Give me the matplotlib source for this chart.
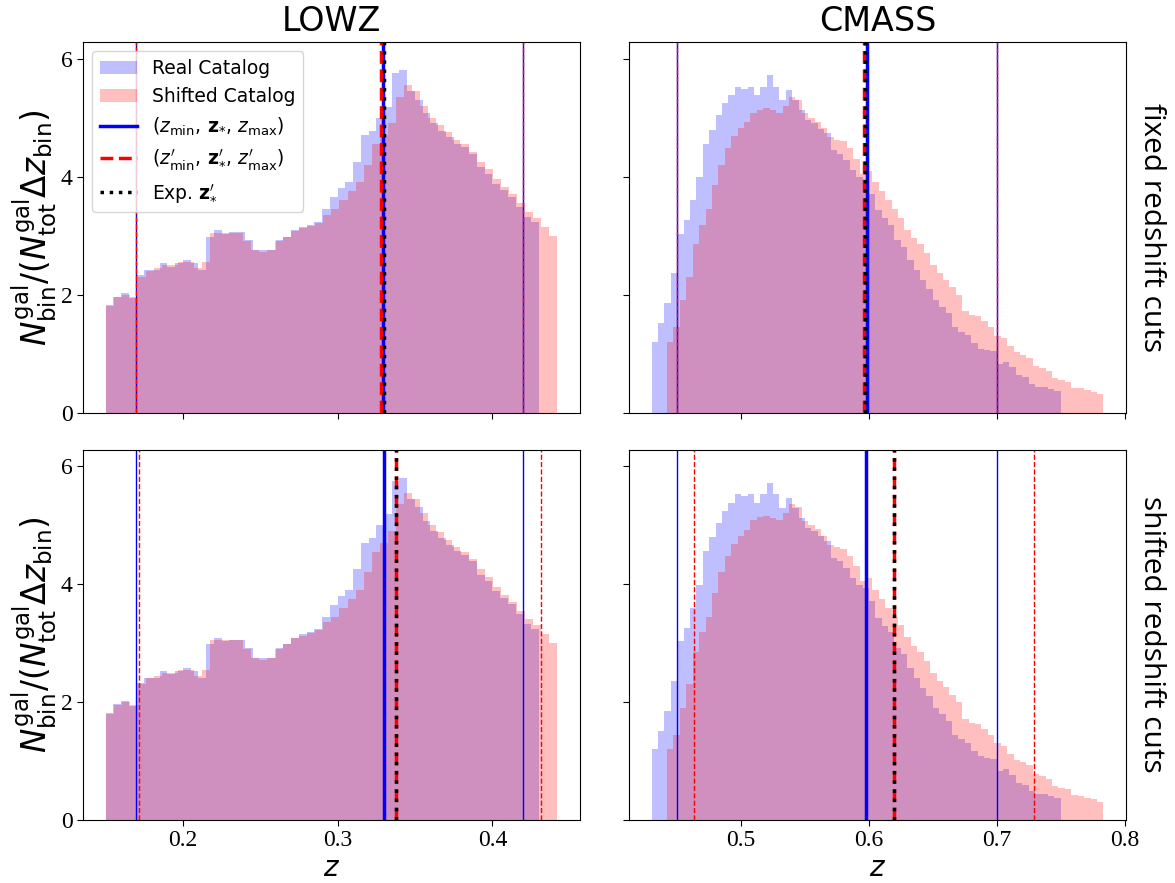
import numpy as np
import matplotlib
matplotlib.use("Agg")
import matplotlib.pyplot as plt

# ---------------- data ----------------
lowz_real_range = (0.150, 0.430)
lowz_real = [1.82, 1.96, 2.02, 1.94, 2.33, 2.41, 2.41, 2.53, 2.47, 2.53,
             2.58, 2.53, 2.41, 2.98, 3.09, 3.03, 3.06, 3.06, 2.92, 2.75,
             2.75, 2.75, 2.92, 2.98, 3.09, 3.15, 3.18, 3.23, 3.45, 3.65,
             3.80, 3.90, 4.25, 4.70, 4.78, 5.00, 5.18, 5.75, 5.80, 5.45,
             5.30, 5.07, 4.90, 4.78, 4.67, 4.56, 4.50, 4.39, 4.16, 4.05,
             3.88, 3.77, 3.66, 3.49, 3.32, 3.23]

lowz_shift_range = (0.150, 0.442)
lowz_shift = [1.80, 1.95, 2.00, 1.95, 2.30, 2.40, 2.45, 2.50, 2.50, 2.55,
              2.55, 2.45, 2.55, 3.05, 3.05, 3.05, 3.05, 2.90, 2.75, 2.72,
              2.75, 2.90, 2.98, 3.08, 3.12, 3.17, 3.22, 3.35, 3.45, 3.60,
              3.75, 3.90, 4.20, 4.55, 4.70, 4.90, 5.35, 5.55, 5.45, 5.20,
              5.00, 4.88, 4.75, 4.62, 4.55, 4.42, 4.25, 4.12, 3.95, 3.82,
              3.70, 3.55, 3.40, 3.30, 3.15, 3.00]

cmass_real_range = (0.430, 0.750)
cmass_real = [1.20, 1.51, 1.85, 2.36, 3.03, 3.26, 3.60, 3.99, 4.56, 4.79,
              5.04, 5.24, 5.38, 5.52, 5.49, 5.52, 5.38, 5.52, 5.72, 5.52,
              5.29, 5.46, 5.29, 5.12, 4.95, 4.90, 4.81, 4.73, 4.45, 4.39,
              4.28, 4.11, 3.99, 3.94,
              3.71, 3.43, 3.29, 3.18, 2.92, 2.81, 2.58, 2.41, 2.24, 2.10,
              1.90, 1.79, 1.68, 1.45, 1.37, 1.31, 1.17, 1.08, 1.06, 1.04,
              0.83, 0.86, 0.77, 0.63, 0.60, 0.49, 0.44, 0.44, 0.40, 0.37]

cmass_shift_range = (0.442, 0.7835)
cmass_shift = [1.20, 1.45, 1.90, 2.30, 2.85, 3.18, 3.45, 3.85, 4.20, 4.48,
               4.68, 4.82, 4.92, 5.08, 5.13, 5.16, 5.12, 5.08, 5.20, 5.35,
               5.30, 5.07, 5.00, 4.93, 4.82, 4.67, 4.62, 4.60, 4.48, 4.30,
               4.05, 4.10, 3.90, 3.75, 3.60, 3.45, 3.30, 3.10, 2.95, 2.85,
               2.70, 2.50, 2.36, 2.25, 2.12, 2.00, 1.72, 1.65, 1.63, 1.55,
               1.45, 1.30, 1.26, 1.12, 1.02, 0.98, 0.93, 0.78, 0.75, 0.70,
               0.58, 0.55, 0.52, 0.42, 0.41, 0.38, 0.35, 0.31]

samples = ["LOWZ", "CMASS"]
rows = ["fixed redshift cuts", "shifted redshift cuts"]

# redshift cuts: (zmin, z*, zmax) real and (z'min, z'*, z'max) shifted, plus expected z'*
cuts_real = {"LOWZ": [(0.170, 0.3295, 0.420), (0.170, 0.3298, 0.420)],
             "CMASS": [(0.450, 0.5984, 0.700), (0.450, 0.5977, 0.700)]}
cuts_shift = {"LOWZ": [(0.170, 0.3282, 0.420), (0.1717, 0.3378, 0.4317)],
              "CMASS": [(0.450, 0.5963, 0.700), (0.4632, 0.6198, 0.7295)]}
exp_zstar = {"LOWZ": [0.3300, 0.3378], "CMASS": [0.5968, 0.6198]}

hist_data = {"LOWZ": (lowz_real_range, lowz_real, lowz_shift_range, lowz_shift),
             "CMASS": (cmass_real_range, cmass_real, cmass_shift_range, cmass_shift)}

xticks = {"LOWZ": [0.2, 0.3, 0.4], "CMASS": [0.5, 0.6, 0.7, 0.8]}

# ---------------- figure ----------------
fig, axes = plt.subplots(2, 2, figsize=(11.75, 8.83), dpi=100,
                         sharex="col", sharey=True)
fig.subplots_adjust(left=0.0706, right=0.9583, top=0.9524, bottom=0.0713,
                    wspace=0.099, hspace=0.1)

tick_font = "Liberation Serif"

for r in range(2):
    for c, name in enumerate(samples):
        ax = axes[r, c]
        rr, rv, sr, sv = hist_data[name]
        redges = np.linspace(rr[0], rr[1], len(rv) + 1)
        sedges = np.linspace(sr[0], sr[1], len(sv) + 1)
        ax.hist(redges[:-1], bins=redges, weights=rv, color="blue",
                alpha=0.25, label="Real Catalog")
        ax.hist(sedges[:-1], bins=sedges, weights=sv, color="red",
                alpha=0.25, label="Shifted Catalog")
        zr = cuts_real[name][r]
        zs = cuts_shift[name][r]
        ax.axvline(zr[0], color="blue", lw=1.0)
        ax.axvline(zr[1], color="blue", lw=2.5,
                   label=r"$(z_{\rm min},\,\mathbf{z}_{*},\,z_{\rm max})$")
        ax.axvline(zr[2], color="blue", lw=1.0)
        ax.axvline(zs[0], color="red", lw=1.0, ls="--")
        ax.axvline(zs[1], color="red", lw=2.5, ls="--",
                   label=r"$(z^{\prime}_{\rm min},\,\mathbf{z}^{\prime}_{*},\,z^{\prime}_{\rm max})$")
        ax.axvline(zs[2], color="red", lw=1.0, ls="--")
        ax.axvline(exp_zstar[name][r], color="black", lw=2.5, ls=":",
                   label=r"Exp. $\mathbf{z}^{\prime}_{*}$")
        ax.set_ylim(0, 6.28)
        ax.set_xticks(xticks[name])
        ax.set_yticks([0, 2, 4, 6])
        ax.tick_params(labelsize=17, length=4)
        for lab in ax.get_xticklabels() + ax.get_yticklabels():
            lab.set_fontfamily(tick_font)
        if r == 0:
            ax.set_title(name, fontsize=24, pad=8)
        if c == 0:
            ax.set_ylabel(r"$N_{\rm bin}^{\rm gal}/(N_{\rm tot}^{\rm gal}\Delta z_{\rm bin})$",
                          fontsize=23.5, labelpad=1)
        if r == 1:
            ax.set_xlabel(r"$z$", fontsize=20, labelpad=2)
        if c == 1:
            ax.text(1.022, 0.5, rows[r], transform=ax.transAxes, rotation=270,
                    ha="left", va="center", fontsize=21.5, family="Open Sans")

axes[0, 0].legend(loc="upper left", fontsize=13.5)

fig.savefig("out.png", dpi=100)
